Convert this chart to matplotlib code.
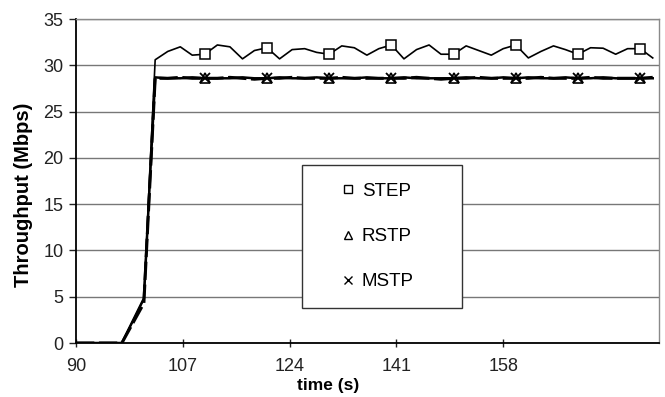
import matplotlib
matplotlib.use("Agg")
import matplotlib.pyplot as plt
from matplotlib.patches import Rectangle

plt.rcParams['font.family'] = ['Liberation Sans', 'DejaVu Sans']

# sample times (s)
time = [90.0, 97.3, 100.8,
        102.6, 104.6, 106.6, 108.5, 110.5, 112.5, 114.5, 116.5, 118.4, 120.4,
        122.4, 124.4, 126.4, 128.3, 130.3, 132.3, 134.3, 136.3, 138.2, 140.2,
        142.2, 144.2, 146.2, 148.1, 150.1, 152.1, 154.1, 156.1, 158.0, 160.0,
        162.0, 164.0, 166.0, 167.9, 169.9, 171.9, 173.9, 175.9, 177.8, 179.8,
        181.8]

# throughput (Mbps)
step = [0, 0, 4.8,
        30.6, 31.5, 32.0, 31.1, 31.2, 32.2, 32.0, 30.7, 31.6, 31.9,
        30.7, 31.7, 31.8, 31.4, 31.2, 32.1, 31.9, 31.1, 31.8, 32.2,
        30.7, 31.7, 32.2, 31.2, 31.2, 32.1, 31.6, 31.1, 31.8, 32.2,
        30.8, 31.5, 32.1, 31.7, 31.2, 31.9, 31.85, 31.2, 31.8, 31.8,
        30.8]
rstp = [0, 0, 4.3,
        28.6, 28.6, 28.7, 28.6, 28.6, 28.6, 28.7, 28.6, 28.5, 28.6,
        28.6, 28.7, 28.6, 28.6, 28.6, 28.7, 28.6, 28.6, 28.6, 28.6,
        28.6, 28.7, 28.6, 28.5, 28.6, 28.6, 28.7, 28.6, 28.6, 28.6,
        28.6, 28.7, 28.6, 28.6, 28.6, 28.7, 28.6, 28.6, 28.6, 28.6,
        28.7]
mstp = [0, 0, 4.8,
        28.7, 28.6, 28.6, 28.7, 28.6, 28.6, 28.6, 28.7, 28.6, 28.6,
        28.7, 28.6, 28.6, 28.7, 28.6, 28.6, 28.6, 28.7, 28.6, 28.6,
        28.7, 28.6, 28.6, 28.6, 28.6, 28.7, 28.6, 28.6, 28.7, 28.6,
        28.7, 28.6, 28.6, 28.7, 28.6, 28.6, 28.7, 28.6, 28.6, 28.6,
        28.6]

xticks = [90, 107, 124, 141, 158]
yticks = [0, 5, 10, 15, 20, 25, 30, 35]

fig = plt.figure(figsize=(6.65, 3.97), dpi=100)
ax = fig.add_axes([0.1143, 0.136, 0.8767, 0.816])

mark = (7, 5)
ax.plot(time, step, color='black', lw=1.2, marker='s', markersize=7,
        markerfacecolor='white', markeredgecolor='black', markeredgewidth=1.1,
        markevery=mark, label='STEP', zorder=4)
ax.plot(time, rstp, color='black', lw=2.2, ls=(0, (6, 1.5)), marker='^',
        markersize=7, markerfacecolor='white', markeredgecolor='black',
        markeredgewidth=1.2, markevery=mark, label='RSTP', zorder=3)
ax.plot(time, mstp, color='black', lw=1.8, marker='x', markersize=7,
        markeredgewidth=1.3, markevery=mark, label='MSTP', zorder=3)

ax.set_xlim(90, 182.8)
ax.set_ylim(0, 35)
ax.set_xticks(xticks)
ax.set_yticks(yticks)
ax.yaxis.grid(True, color='#777777', lw=1.0)
ax.set_axisbelow(True)

for s in ('top', 'right'):
    ax.spines[s].set_color('#8a8a8a')
    ax.spines[s].set_linewidth(1.0)
for s in ('left', 'bottom'):
    ax.spines[s].set_color('black')
    ax.spines[s].set_linewidth(1.3)

ax.tick_params(axis='both', labelsize=13, colors='#222222', length=5,
               width=1.0, pad=4)
ax.tick_params(axis='x', direction='inout', length=6, pad=8)

ax.set_xlabel('time (s)', fontsize=12.5, fontweight='bold')
ax.set_ylabel('Throughput (Mbps)', fontsize=14.5, fontweight='bold')
ax.xaxis.set_label_coords(0.432, -0.108)
ax.yaxis.set_label_coords(-0.074, 0.457)

# legend frame
frame = Rectangle((0.387, 0.108), 0.2745, 0.441, transform=ax.transAxes,
                  facecolor='white', edgecolor='#333333', lw=1.0, zorder=5)
ax.add_patch(frame)

leg = ax.legend(loc='center', bbox_to_anchor=(0.518, 0.3285),
                frameon=False, fontsize=13.5, handlelength=0.6,
                handletextpad=0.45, labelspacing=1.5, markerscale=0.75)
leg.set_zorder(6)
for h in leg.get_lines():
    h.set_linestyle('none')
    h.set_markeredgewidth(1.0)

fig.savefig('out.png', dpi=100)
